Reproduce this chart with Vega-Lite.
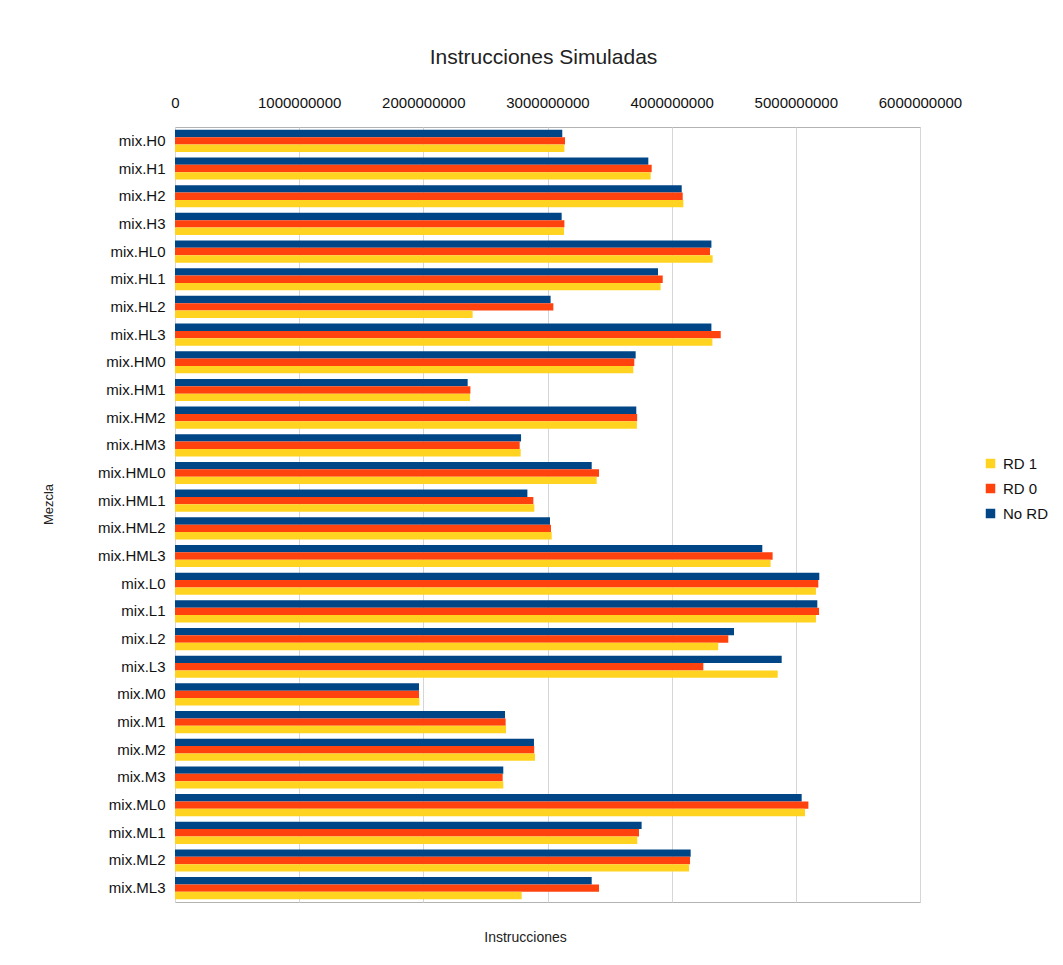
{
  "$schema": "https://vega.github.io/schema/vega-lite/v6.json",
  "autosize": {"type": "none"},
  "padding": {"left": 175, "top": 127, "right": 143, "bottom": 63},
  "width": 745,
  "height": 775,
  "background": "white",
  "title": {
    "text": "Instrucciones Simuladas",
    "font": "Liberation Sans",
    "fontSize": 21,
    "fontWeight": "normal",
    "color": "#222222",
    "anchor": "middle",
    "dx": -4,
    "offset": 27
  },
  "config": {
    "view": {"stroke": "#b3b3b3", "strokeWidth": 1},
    "font": "Liberation Sans"
  },
  "data": {
    "values": [
      {"mezcla": "mix.H0", "serie": "No RD", "valor": 3119000000},
      {"mezcla": "mix.H0", "serie": "RD 0", "valor": 3141000000},
      {"mezcla": "mix.H0", "serie": "RD 1", "valor": 3136000000},
      {"mezcla": "mix.H1", "serie": "No RD", "valor": 3812000000},
      {"mezcla": "mix.H1", "serie": "RD 0", "valor": 3839000000},
      {"mezcla": "mix.H1", "serie": "RD 1", "valor": 3831000000},
      {"mezcla": "mix.H2", "serie": "No RD", "valor": 4081000000},
      {"mezcla": "mix.H2", "serie": "RD 0", "valor": 4089000000},
      {"mezcla": "mix.H2", "serie": "RD 1", "valor": 4094000000},
      {"mezcla": "mix.H3", "serie": "No RD", "valor": 3114000000},
      {"mezcla": "mix.H3", "serie": "RD 0", "valor": 3136000000},
      {"mezcla": "mix.H3", "serie": "RD 1", "valor": 3133000000},
      {"mezcla": "mix.HL0", "serie": "No RD", "valor": 4320000000},
      {"mezcla": "mix.HL0", "serie": "RD 0", "valor": 4309000000},
      {"mezcla": "mix.HL0", "serie": "RD 1", "valor": 4330000000},
      {"mezcla": "mix.HL1", "serie": "No RD", "valor": 3890000000},
      {"mezcla": "mix.HL1", "serie": "RD 0", "valor": 3928000000},
      {"mezcla": "mix.HL1", "serie": "RD 1", "valor": 3911000000},
      {"mezcla": "mix.HL2", "serie": "No RD", "valor": 3025000000},
      {"mezcla": "mix.HL2", "serie": "RD 0", "valor": 3047000000},
      {"mezcla": "mix.HL2", "serie": "RD 1", "valor": 2397000000},
      {"mezcla": "mix.HL3", "serie": "No RD", "valor": 4320000000},
      {"mezcla": "mix.HL3", "serie": "RD 0", "valor": 4395000000},
      {"mezcla": "mix.HL3", "serie": "RD 1", "valor": 4328000000},
      {"mezcla": "mix.HM0", "serie": "No RD", "valor": 3710000000},
      {"mezcla": "mix.HM0", "serie": "RD 0", "valor": 3699000000},
      {"mezcla": "mix.HM0", "serie": "RD 1", "valor": 3691000000},
      {"mezcla": "mix.HM1", "serie": "No RD", "valor": 2357000000},
      {"mezcla": "mix.HM1", "serie": "RD 0", "valor": 2379000000},
      {"mezcla": "mix.HM1", "serie": "RD 1", "valor": 2376000000},
      {"mezcla": "mix.HM2", "serie": "No RD", "valor": 3715000000},
      {"mezcla": "mix.HM2", "serie": "RD 0", "valor": 3722000000},
      {"mezcla": "mix.HM2", "serie": "RD 1", "valor": 3720000000},
      {"mezcla": "mix.HM3", "serie": "No RD", "valor": 2787000000},
      {"mezcla": "mix.HM3", "serie": "RD 0", "valor": 2776000000},
      {"mezcla": "mix.HM3", "serie": "RD 1", "valor": 2784000000},
      {"mezcla": "mix.HML0", "serie": "No RD", "valor": 3356000000},
      {"mezcla": "mix.HML0", "serie": "RD 0", "valor": 3415000000},
      {"mezcla": "mix.HML0", "serie": "RD 1", "valor": 3396000000},
      {"mezcla": "mix.HML1", "serie": "No RD", "valor": 2838000000},
      {"mezcla": "mix.HML1", "serie": "RD 0", "valor": 2886000000},
      {"mezcla": "mix.HML1", "serie": "RD 1", "valor": 2894000000},
      {"mezcla": "mix.HML2", "serie": "No RD", "valor": 3020000000},
      {"mezcla": "mix.HML2", "serie": "RD 0", "valor": 3028000000},
      {"mezcla": "mix.HML2", "serie": "RD 1", "valor": 3034000000},
      {"mezcla": "mix.HML3", "serie": "No RD", "valor": 4730000000},
      {"mezcla": "mix.HML3", "serie": "RD 0", "valor": 4813000000},
      {"mezcla": "mix.HML3", "serie": "RD 1", "valor": 4797000000},
      {"mezcla": "mix.L0", "serie": "No RD", "valor": 5189000000},
      {"mezcla": "mix.L0", "serie": "RD 0", "valor": 5181000000},
      {"mezcla": "mix.L0", "serie": "RD 1", "valor": 5162000000},
      {"mezcla": "mix.L1", "serie": "No RD", "valor": 5173000000},
      {"mezcla": "mix.L1", "serie": "RD 0", "valor": 5187000000},
      {"mezcla": "mix.L1", "serie": "RD 1", "valor": 5162000000},
      {"mezcla": "mix.L2", "serie": "No RD", "valor": 4502000000},
      {"mezcla": "mix.L2", "serie": "RD 0", "valor": 4456000000},
      {"mezcla": "mix.L2", "serie": "RD 1", "valor": 4375000000},
      {"mezcla": "mix.L3", "serie": "No RD", "valor": 4886000000},
      {"mezcla": "mix.L3", "serie": "RD 0", "valor": 4255000000},
      {"mezcla": "mix.L3", "serie": "RD 1", "valor": 4854000000},
      {"mezcla": "mix.M0", "serie": "No RD", "valor": 1965000000},
      {"mezcla": "mix.M0", "serie": "RD 0", "valor": 1965000000},
      {"mezcla": "mix.M0", "serie": "RD 1", "valor": 1968000000},
      {"mezcla": "mix.M1", "serie": "No RD", "valor": 2658000000},
      {"mezcla": "mix.M1", "serie": "RD 0", "valor": 2663000000},
      {"mezcla": "mix.M1", "serie": "RD 1", "valor": 2666000000},
      {"mezcla": "mix.M2", "serie": "No RD", "valor": 2891000000},
      {"mezcla": "mix.M2", "serie": "RD 0", "valor": 2893000000},
      {"mezcla": "mix.M2", "serie": "RD 1", "valor": 2899000000},
      {"mezcla": "mix.M3", "serie": "No RD", "valor": 2644000000},
      {"mezcla": "mix.M3", "serie": "RD 0", "valor": 2639000000},
      {"mezcla": "mix.M3", "serie": "RD 1", "valor": 2644000000},
      {"mezcla": "mix.ML0", "serie": "No RD", "valor": 5047000000},
      {"mezcla": "mix.ML0", "serie": "RD 0", "valor": 5101000000},
      {"mezcla": "mix.ML0", "serie": "RD 1", "valor": 5074000000},
      {"mezcla": "mix.ML1", "serie": "No RD", "valor": 3758000000},
      {"mezcla": "mix.ML1", "serie": "RD 0", "valor": 3737000000},
      {"mezcla": "mix.ML1", "serie": "RD 1", "valor": 3723000000},
      {"mezcla": "mix.ML2", "serie": "No RD", "valor": 4153000000},
      {"mezcla": "mix.ML2", "serie": "RD 0", "valor": 4148000000},
      {"mezcla": "mix.ML2", "serie": "RD 1", "valor": 4140000000},
      {"mezcla": "mix.ML3", "serie": "No RD", "valor": 3356000000},
      {"mezcla": "mix.ML3", "serie": "RD 0", "valor": 3415000000},
      {"mezcla": "mix.ML3", "serie": "RD 1", "valor": 2792000000}
    ]
  },
  "mark": {"type": "bar", "cornerRadius": 0},
  "encoding": {
    "y": {
      "field": "mezcla",
      "type": "nominal",
      "sort": null,
      "scale": {"paddingInner": 0.2, "paddingOuter": 0.1},
      "axis": {
        "title": "Mezcla",
        "titleFont": "Liberation Sans",
        "titleFontSize": 13,
        "titleFontWeight": "normal",
        "titleColor": "#222222",
        "titleX": -127,
        "titleY": 377,
        "titleAngle": -90,
        "titleBaseline": "middle",
        "titleAlign": "center",
        "labelFont": "Liberation Sans",
        "labelFontSize": 15,
        "labelColor": "#111111",
        "labelPadding": 10,
        "ticks": false,
        "tickSize": 0,
        "domain": false
      }
    },
    "yOffset": {
      "field": "serie",
      "type": "nominal",
      "sort": ["No RD", "RD 0", "RD 1"],
      "scale": {"paddingInner": 0, "paddingOuter": 0}
    },
    "x": {
      "field": "valor",
      "type": "quantitative",
      "scale": {"domain": [0, 6000000000], "nice": false},
      "axis": {
        "orient": "top",
        "values": [0, 1000000000, 2000000000, 3000000000, 4000000000, 5000000000, 6000000000],
        "format": "d",
        "title": "Instrucciones",
        "titleFont": "Liberation Sans",
        "titleFontSize": 14,
        "titleFontWeight": "normal",
        "titleColor": "#222222",
        "titleX": 350,
        "titleY": 810,
        "titleAlign": "center",
        "titleBaseline": "middle",
        "labelFont": "Liberation Sans",
        "labelFontSize": 15,
        "labelColor": "#111111",
        "labelPadding": 17,
        "labelFlush": false,
        "labelOverlap": false,
        "ticks": false,
        "tickSize": 0,
        "domain": false,
        "grid": true,
        "gridColor": "#d6d6d6",
        "gridWidth": 1
      }
    },
    "color": {
      "field": "serie",
      "type": "nominal",
      "scale": {
        "domain": ["RD 1", "RD 0", "No RD"],
        "range": ["#ffd320", "#ff420e", "#004586"]
      },
      "legend": {
        "title": null,
        "orient": "none",
        "legendX": 808,
        "legendY": 329,
        "symbolType": "square",
        "symbolSize": 90,
        "symbolStrokeWidth": 0,
        "labelFont": "Liberation Sans",
        "labelFontSize": 15,
        "labelColor": "#111111",
        "labelOffset": 5,
        "rowPadding": 9
      }
    }
  }
}
